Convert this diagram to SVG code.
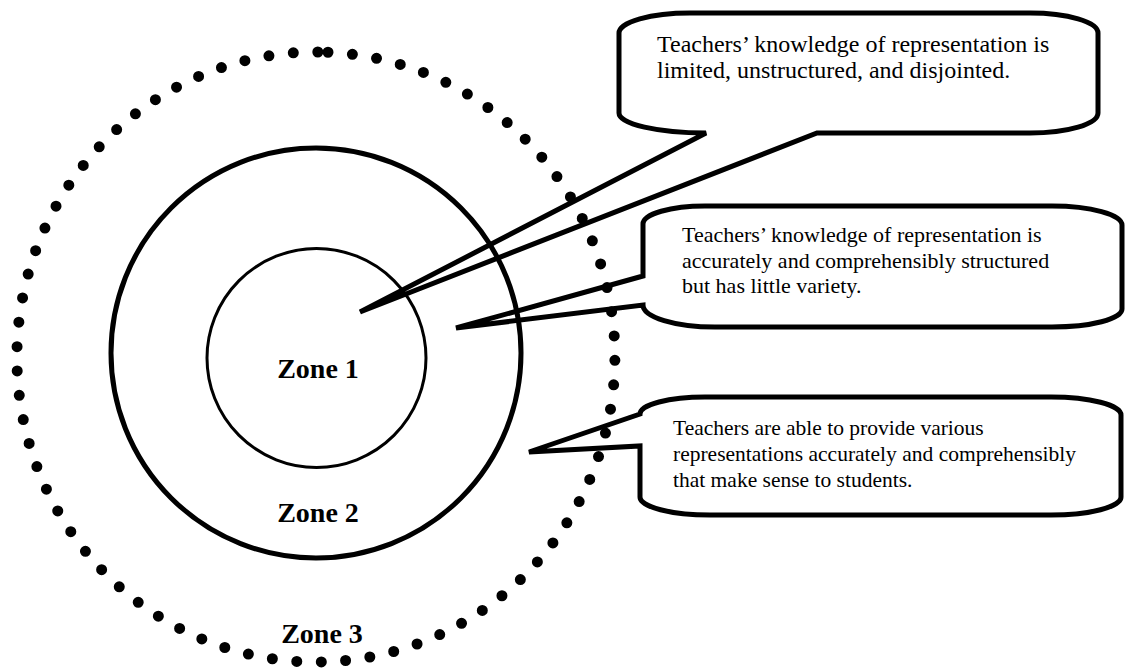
<svg xmlns="http://www.w3.org/2000/svg" width="1126" height="671" viewBox="0 0 1126 671">
  <style>
    .callout { fill: #ffffff; stroke: #000000; stroke-width: 5; stroke-linejoin: miter; stroke-miterlimit: 3; }
    .txt { font-family: "Liberation Serif", "Times New Roman", serif; fill: #000000; }
    .zone { font-family: "Liberation Serif", "Times New Roman", serif; font-weight: bold; font-size: 28px; fill: #000000; text-anchor: middle; }
    .ring { fill: none; stroke: #000000; }
  </style>
  <rect x="0" y="0" width="1126" height="671" fill="#ffffff"/>

  <g id="callout-zone1">
    <path class="callout" d="M 690 13 L 1030 13 A 68 20 0 0 1 1098 33 L 1098 113 A 68 20 0 0 1 1030 133 L 817 133 L 360 312 L 706 133 A 87 20 0 0 1 619 113 L 619 33 A 71 20 0 0 1 690 13 Z"/>
    <text class="txt" font-size="24" x="657" y="52">Teachers’ knowledge of representation is</text>
    <text class="txt" font-size="24" x="657" y="78">limited, unstructured, and disjointed.</text>
  </g>

  <g id="callout-zone2">
    <path class="callout" d="M 705 206 L 1052 206 A 70 19 0 0 1 1122 225 L 1122 309 A 70 18 0 0 1 1052 327 L 715 327 A 72 22 0 0 1 643 305 L 456 328 L 643 276 L 643 224 A 62 18 0 0 1 705 206 Z"/>
    <text class="txt" font-size="22" x="682" y="242">Teachers’ knowledge of representation is</text>
    <text class="txt" font-size="22" x="682" y="268">accurately and comprehensibly structured</text>
    <text class="txt" font-size="22" x="682" y="293">but has little variety.</text>
  </g>

  <g id="callout-zone3">
    <path class="callout" d="M 705 397 L 1051 397 A 70 18 0 0 1 1121 415 L 1121 497 A 70 18 0 0 1 1051 515 L 710 515 A 70 18 0 0 1 640 497 L 640 446 L 529 452 L 640 414 A 65 17 0 0 1 705 397 Z"/>
    <text class="txt" font-size="21.5" x="673" y="435">Teachers are able to provide various</text>
    <text class="txt" font-size="21.5" x="673" y="461">representations accurately and comprehensibly</text>
    <text class="txt" font-size="21.5" x="673" y="487">that make sense to students.</text>
  </g>

  <g id="zone2">
    <circle class="ring" cx="316" cy="353" r="205" stroke-width="5"/>
    <text class="zone" x="318" y="522">Zone 2</text>
  </g>

  <g id="zone1">
    <circle class="ring" cx="316.5" cy="358" r="109.5" stroke-width="3"/>
    <text class="zone" x="318" y="378">Zone 1</text>
  </g>

  <g id="zone3">
    <path class="ring" d="M 328 52.25 A 299 305 0 0 1 328 661.75 A 299 305 0 1 1 328 52.25" stroke-width="11" stroke-linecap="round" stroke-dasharray="0 24.5"/>
    <text class="zone" x="322" y="643">Zone 3</text>
  </g>
</svg>
